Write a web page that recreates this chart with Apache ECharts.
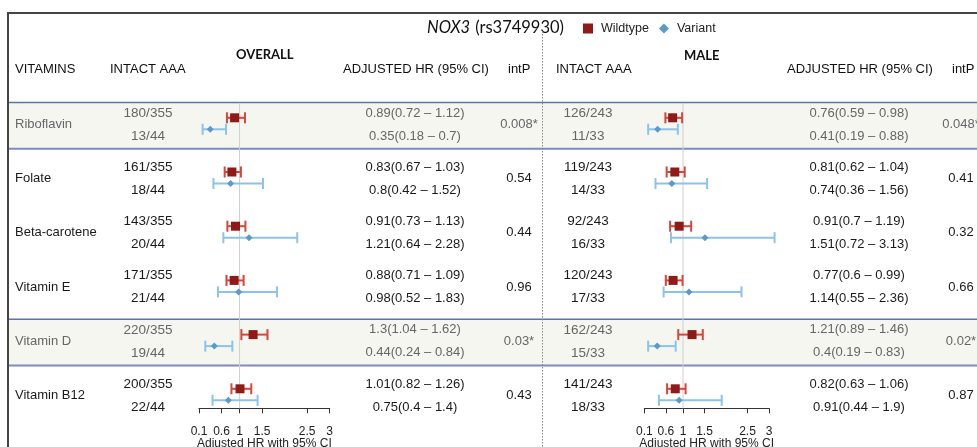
<!DOCTYPE html>
<html><head><meta charset="utf-8">
<script src="https://cdn.jsdelivr.net/npm/echarts@6/dist/echarts.min.js"></script>
<style>html,body{margin:0;padding:0;background:#fff}#c{width:977px;height:447px}</style>
</head><body><div id="c"></div>
<script>
const vitamins = ['Riboflavin','Folate','Beta-carotene','Vitamin E','Vitamin D','Vitamin B12'];
const highlightRows = [0, 4];
const tickValues = [0.1, 0.6, 1, 1.5, 2.5, 3];

const overallWtCounts = ['180/355','161/355','143/355','171/355','220/355','200/355'];
const overallVarCounts = ['13/44','18/44','20/44','21/44','19/44','22/44'];
const overallWtHR = [0.89, 0.83, 0.91, 0.88, 1.3, 1.01];
const overallWtLo = [0.72, 0.67, 0.73, 0.71, 1.04, 0.82];
const overallWtHi = [1.12, 1.03, 1.13, 1.09, 1.62, 1.26];
const overallVarHR = [0.35, 0.8, 1.21, 0.98, 0.44, 0.75];
const overallVarLo = [0.18, 0.42, 0.64, 0.52, 0.24, 0.4];
const overallVarHi = [0.7, 1.52, 2.28, 1.83, 0.84, 1.4];
const overallIntP = ['0.008*','0.54','0.44','0.96','0.03*','0.43'];

const maleWtCounts = ['126/243','119/243','92/243','120/243','162/243','141/243'];
const maleVarCounts = ['11/33','14/33','16/33','17/33','15/33','18/33'];
const maleWtHR = [0.76, 0.81, 0.91, 0.77, 1.21, 0.82];
const maleWtLo = [0.59, 0.62, 0.7, 0.6, 0.89, 0.63];
const maleWtHi = [0.98, 1.04, 1.19, 0.99, 1.46, 1.06];
const maleVarHR = [0.41, 0.74, 1.51, 1.14, 0.4, 0.91];
const maleVarLo = [0.19, 0.36, 0.72, 0.55, 0.19, 0.44];
const maleVarHi = [0.88, 1.56, 3.13, 2.36, 0.83, 1.9];
const maleIntP = ['0.048*','0.41','0.32','0.66','0.02*','0.87'];

const FONT = 'Arial, "Liberation Sans", sans-serif';
const WT_LINE = '#d8453a', WT_MARK = '#8e1b17';
const VAR_LINE = '#8cc3ea', VAR_MARK = '#5b9ac9';

function fmt(h, l, u) { return h + '(' + l + ' \u2013 ' + u + ')'; }
function rowsOf(lo, hi, hr) { return hr.map((v, i) => [lo[i], hi[i], v, i]); }

function forestRender(offset, lineColor, markColor, isSquare) {
  return function (params, api) {
    const lo = api.coord([api.value(0), api.value(3)]);
    const hi = api.coord([api.value(1), api.value(3)]);
    const m = api.coord([api.value(2), api.value(3)]);
    const y = m[1] + offset;
    const cap = 5.5;
    const ls = { stroke: lineColor, lineWidth: 2 };
    const children = [
      { type: 'line', shape: { x1: lo[0], y1: y, x2: hi[0], y2: y }, style: ls },
      { type: 'line', shape: { x1: lo[0], y1: y - cap, x2: lo[0], y2: y + cap }, style: ls },
      { type: 'line', shape: { x1: hi[0], y1: y - cap, x2: hi[0], y2: y + cap }, style: ls }
    ];
    if (isSquare) {
      children.push({ type: 'rect', shape: { x: m[0] - 4.5, y: y - 4.5, width: 9, height: 9 }, style: { fill: markColor } });
    } else {
      const r = 3.5;
      children.push({ type: 'polygon', shape: { points: [[m[0], y - r], [m[0] + r, y], [m[0], y + r], [m[0] - r, y]] }, style: { fill: markColor } });
    }
    return { type: 'group', children: children };
  };
}

function textRender(cols) {
  return function (params, api) {
    const i = params.dataIndex;
    const row = api.value(0);
    const c = api.coord([1, row]);
    const hl = highlightRows.indexOf(row) >= 0;
    const fill = hl ? '#666' : '#1a1a1a';
    const children = [];
    cols.forEach(col => {
      if (col.single) {
        children.push({ type: 'text', style: { text: col.arr[i], x: col.x, y: c[1] + (col.dy || 0), fill: fill, fontSize: col.fs || 13, fontFamily: FONT, align: col.align || 'center', verticalAlign: 'middle' } });
      } else {
        children.push({ type: 'text', style: { text: col.a[i], x: col.x, y: c[1] - 11.5, fill: fill, fontSize: col.fs || 13, fontFamily: FONT, align: 'center', verticalAlign: 'middle' } });
        children.push({ type: 'text', style: { text: col.b[i], x: col.x, y: c[1] + 11.5, fill: fill, fontSize: col.fs || 13, fontFamily: FONT, align: 'center', verticalAlign: 'middle' } });
      }
    });
    return { type: 'group', children: children };
  };
}

const overallHRText = {a: overallWtHR.map((v, i) => fmt(v, overallWtLo[i], overallWtHi[i])), b: overallVarHR.map((v, i) => fmt(v, overallVarLo[i], overallVarHi[i]))};
const maleHRText = {a: maleWtHR.map((v, i) => fmt(v, maleWtLo[i], maleWtHi[i])), b: maleVarHR.map((v, i) => fmt(v, maleVarLo[i], maleVarHi[i]))};

const rowIdx = vitamins.map((v, i) => [i]);
const Y_MAX = 5.236;

function xAxisCfg(gi) {
  return {
    type: 'value', gridIndex: gi, min: 0.1, max: 3, position: 'bottom',
    splitLine: { show: false },
    axisLine: { show: true, onZero: false, lineStyle: { color: '#333', width: 1 } },
    axisTick: { show: true, customValues: tickValues, length: 5, lineStyle: { color: '#333' } },
    axisLabel: { customValues: tickValues, fontSize: 12, color: '#222', fontFamily: FONT, margin: 17, formatter: v => String(v) },
    name: 'Adjusted HR with 95% CI', nameLocation: 'middle', nameGap: 29, nameMoveOverlap: false,
    nameTextStyle: { fontSize: 12, color: '#222', fontFamily: FONT }
  };
}
function yAxisCfg(gi) {
  return { type: 'value', gridIndex: gi, min: -0.5, max: Y_MAX, inverse: true, show: false };
}

const refLineSeries = (gi) => ({
  type: 'custom', xAxisIndex: gi, yAxisIndex: gi, silent: true, clip: false, z: 1,
  data: [[1]],
  renderItem: function (params, api) {
    const a = api.coord([api.value(0), -0.4]);
    const b = api.coord([api.value(0), Y_MAX]);
    return { type: 'line', shape: { x1: a[0], y1: a[1], x2: b[0], y2: b[1] }, style: { stroke: '#d0d0d0', lineWidth: 1 } };
  }
});

const option = {
  animation: false,
  title: {
    text: '{i|NOX3} {n|(rs3749930)}', left: 422, top: 14,
    textStyle: { fontWeight: 'normal', rich: {
      i: { fontStyle: 'italic', fontWeight: 'normal', fontSize: 16.5, fontFamily: 'Lato, sans-serif', color: '#111' },
      n: { fontWeight: 'normal', fontSize: 16.5, fontFamily: 'Lato, sans-serif', color: '#111' }
    } }
  },
  legend: {
    left: 578, top: 17, itemWidth: 10, itemHeight: 10, itemGap: 10,
    textStyle: { fontSize: 12.5, fontFamily: FONT, color: '#222', padding: [0, 0, 0, 3] },
    data: [{ name: 'Wildtype', icon: 'rect' }, { name: 'Variant', icon: 'diamond' }]
  },
  grid: [
    { left: 199, width: 130.7, top: 97.4, height: 310.9, containLabel: false, outerBoundsMode: 'none' },
    { left: 644.3, width: 124.7, top: 97.4, height: 310.9, containLabel: false, outerBoundsMode: 'none' }
  ],
  xAxis: [xAxisCfg(0), xAxisCfg(1)],
  yAxis: [yAxisCfg(0), yAxisCfg(1)],
  graphic: [
    { type: 'polyline', shape: { points: [[8, 447], [8, 13], [977, 13]] }, style: { stroke: '#444', lineWidth: 2, fill: null }, z: 10 },
    { type: 'line', shape: { x1: 542.5, y1: 31, x2: 542.5, y2: 447 }, style: { stroke: '#888', lineWidth: 1, lineDash: [1.5, 1.5] }, z: 10 },
    { type: 'text', left: 15, top: 63, style: { text: 'VITAMINS', fontSize: 13, fontFamily: FONT, fill: '#111' } },
    { type: 'text', left: 110, top: 63, style: { text: 'INTACT AAA', fontSize: 13, fontFamily: FONT, fill: '#111' } },
    { type: 'text', left: 236, top: 48, style: { text: 'OVERALL', fontSize: 13, fontWeight: 'bold', fontFamily: 'Lato, sans-serif', fill: '#111' } },
    { type: 'text', left: 343, top: 63, style: { text: 'ADJUSTED HR (95% CI)', fontSize: 13, fontFamily: FONT, fill: '#111' } },
    { type: 'text', left: 508, top: 63, style: { text: 'intP', fontSize: 13, fontFamily: FONT, fill: '#111' } },
    { type: 'text', left: 556, top: 63, style: { text: 'INTACT AAA', fontSize: 13, fontFamily: FONT, fill: '#111' } },
    { type: 'text', left: 684, top: 49, style: { text: 'MALE', fontSize: 13, fontWeight: 'bold', fontFamily: 'Lato, sans-serif', fill: '#111' } },
    { type: 'text', left: 787, top: 63, style: { text: 'ADJUSTED HR (95% CI)', fontSize: 13, fontFamily: FONT, fill: '#111' } },
    { type: 'text', left: 952, top: 63, style: { text: 'intP', fontSize: 13, fontFamily: FONT, fill: '#111' } }
  ],
  series: [
    {
      type: 'custom', xAxisIndex: 0, yAxisIndex: 0, silent: true, clip: false, z: 0,
      data: highlightRows.map(r => [r]),
      renderItem: function (params, api) {
        const p = api.coord([1, api.value(0)]);
        const top = p[1] - 22, bot = p[1] + 24.2;
        return { type: 'group', children: [
          { type: 'rect', shape: { x: 9, y: top, width: 968, height: bot - top }, style: { fill: '#f4f6ef' } },
          { type: 'line', shape: { x1: 9, y1: top, x2: 977, y2: top }, style: { stroke: '#5f72b0', lineWidth: 1.5 } },
          { type: 'line', shape: { x1: 9, y1: bot, x2: 977, y2: bot }, style: { stroke: '#7d8cbd', lineWidth: 2 } }
        ] };
      }
    },
    refLineSeries(0),
    refLineSeries(1),
    {
      type: 'custom', xAxisIndex: 0, yAxisIndex: 0, silent: true, clip: false, z: 3,
      data: rowIdx,
      renderItem: textRender([
        { single: true, arr: vitamins, x: 15, align: 'left' },
        { a: overallWtCounts, b: overallVarCounts, x: 148, fs: 13.5 },
        { a: overallHRText.a, b: overallHRText.b, x: 415 },
        { single: true, arr: overallIntP, x: 519 },
        { a: maleWtCounts, b: maleVarCounts, x: 588, fs: 13.5 },
        { a: maleHRText.a, b: maleHRText.b, x: 859 },
        { single: true, arr: maleIntP, x: 961 }
      ])
    },
    { name: 'Wildtype', type: 'custom', xAxisIndex: 0, yAxisIndex: 0, clip: false, z: 5, itemStyle: { color: WT_MARK },
      data: rowsOf(overallWtLo, overallWtHi, overallWtHR), encode: { x: [0, 1, 2], y: 3 },
      renderItem: forestRender(-6.7, WT_LINE, WT_MARK, true) },
    { name: 'Variant', type: 'custom', xAxisIndex: 0, yAxisIndex: 0, clip: false, z: 5, itemStyle: { color: VAR_MARK },
      data: rowsOf(overallVarLo, overallVarHi, overallVarHR), encode: { x: [0, 1, 2], y: 3 },
      renderItem: forestRender(4.8, VAR_LINE, VAR_MARK, false) },
    { name: 'Wildtype', type: 'custom', xAxisIndex: 1, yAxisIndex: 1, clip: false, z: 5, itemStyle: { color: WT_MARK },
      data: rowsOf(maleWtLo, maleWtHi, maleWtHR), encode: { x: [0, 1, 2], y: 3 },
      renderItem: forestRender(-6.7, WT_LINE, WT_MARK, true) },
    { name: 'Variant', type: 'custom', xAxisIndex: 1, yAxisIndex: 1, clip: false, z: 5, itemStyle: { color: VAR_MARK },
      data: rowsOf(maleVarLo, maleVarHi, maleVarHR), encode: { x: [0, 1, 2], y: 3 },
      renderItem: forestRender(4.8, VAR_LINE, VAR_MARK, false) }
  ]
};
const chart = echarts.init(document.getElementById('c'), null, { renderer: 'canvas' });
chart.setOption(option);
</script>
</body></html>
